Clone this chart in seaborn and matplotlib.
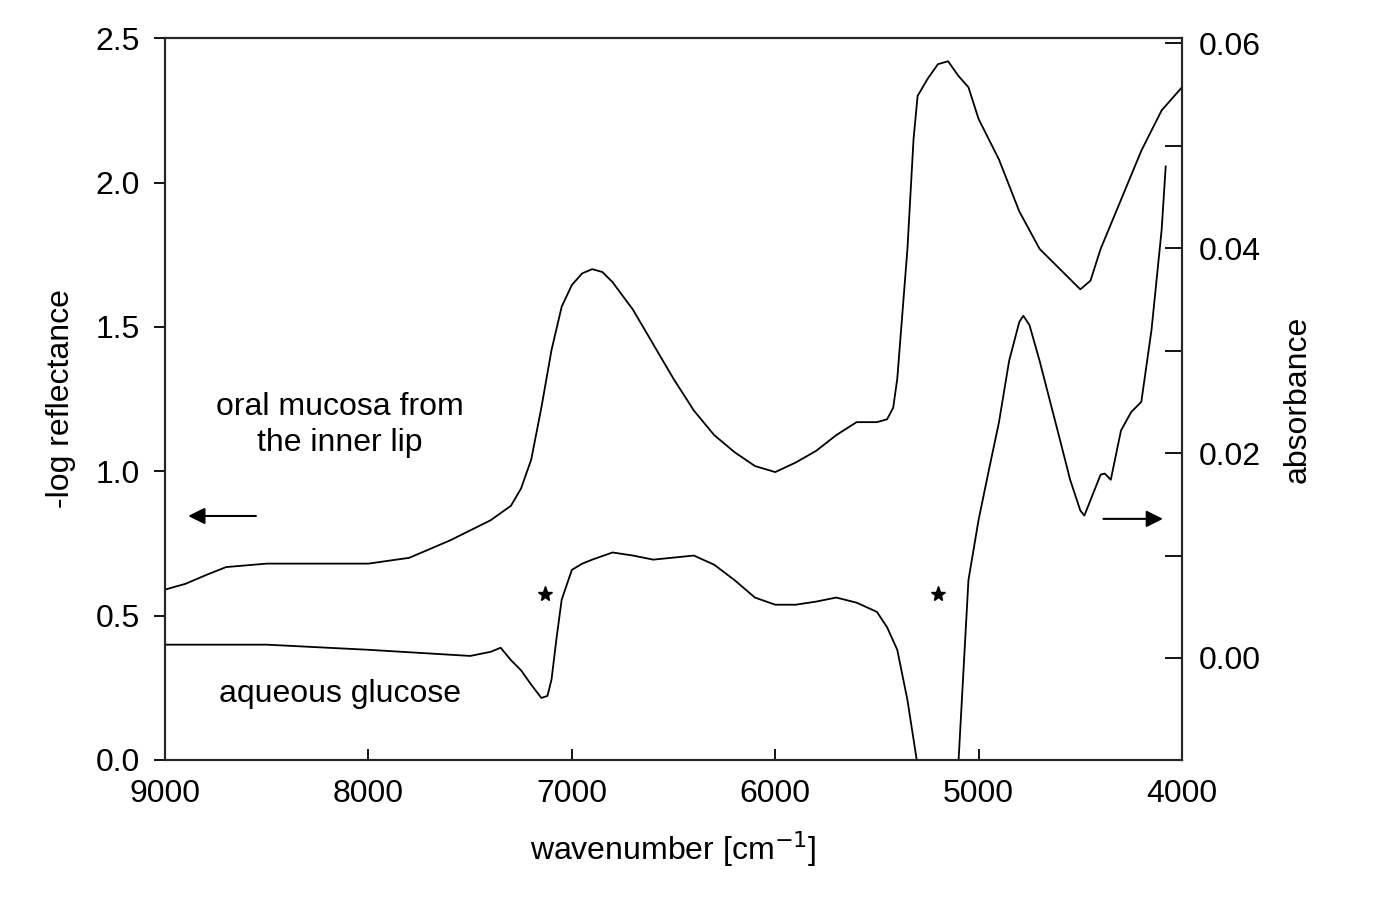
import numpy as np
import seaborn as sns
import matplotlib.pyplot as plt

sns.set_style("ticks")
plt.rcParams['font.family'] = ['Liberation Sans', 'DejaVu Sans']
plt.rcParams['text.color'] = 'black'
plt.rcParams['axes.labelcolor'] = 'black'
plt.rcParams['xtick.color'] = 'black'
plt.rcParams['ytick.color'] = 'black'

# oral mucosa, -log reflectance (left axis)
wn_mucosa = [9000, 8900, 8800, 8700, 8500, 8000, 7800, 7600, 7400, 7300, 7250, 7200, 7150, 7100, 7050,
             7000, 6950, 6900, 6850, 6800, 6700, 6600, 6500, 6400, 6300, 6200, 6100, 6000, 5900,
             5800, 5700, 5600, 5500, 5450, 5420, 5400, 5350, 5320, 5300, 5250, 5200, 5150, 5100,
             5050, 5000, 4900, 4800, 4700, 4600, 4500, 4450, 4400, 4300, 4200, 4100, 4000]
refl_mucosa = [0.59, 0.61, 0.64, 0.668, 0.68, 0.68, 0.70, 0.76, 0.83, 0.88, 0.94, 1.04, 1.22, 1.42,
               1.57, 1.645, 1.685, 1.70, 1.69, 1.655, 1.56, 1.44, 1.32, 1.21, 1.125, 1.066, 1.018,
               0.997, 1.03, 1.07, 1.125, 1.17, 1.17, 1.18, 1.22, 1.32, 1.77, 2.15, 2.30, 2.36, 2.41,
               2.42, 2.37, 2.33, 2.22, 2.08, 1.90, 1.77, 1.70, 1.63, 1.66, 1.77, 1.94, 2.11, 2.25, 2.33]

# aqueous glucose, absorbance (right axis)
wn_glucose = [9000, 8500, 8000, 7500, 7400, 7350, 7300, 7250, 7200, 7150, 7120, 7100, 7075, 7050,
              7000, 6950, 6900, 6800, 6700, 6600, 6500, 6400, 6300, 6200, 6100, 6000, 5900, 5800,
              5700, 5600, 5500, 5450, 5400, 5350, 5300, 5200, 5100, 5050, 5000, 4950, 4900, 4850,
              4800, 4780, 4750, 4700, 4600, 4550, 4500, 4480, 4450, 4400, 4380, 4350, 4300, 4250,
              4200, 4150, 4100, 4080]
abs_glucose = [0.0013, 0.0013, 0.0008, 0.0002, 0.0006, 0.001, -0.0002, -0.0012, -0.0026, -0.0039,
               -0.0037, -0.0021, 0.002, 0.0057, 0.0086, 0.0092, 0.0096, 0.0103, 0.0100, 0.0096,
               0.0098, 0.0100, 0.0091, 0.0076, 0.0059, 0.0052, 0.0052, 0.0055, 0.0059, 0.0054,
               0.0045, 0.003, 0.0008, -0.0041, -0.0105, -0.03, -0.0105, 0.0076, 0.0135, 0.0183,
               0.023, 0.029, 0.0328, 0.0334, 0.0325, 0.029, 0.0213, 0.0174, 0.0144, 0.0139, 0.0154,
               0.0179, 0.018, 0.0174, 0.0222, 0.024, 0.025, 0.032, 0.0418, 0.048]

fig = plt.figure(figsize=(13.76, 9.09), dpi=100)
ax = fig.add_axes([0.12, 0.164, 0.739, 0.794])
sns.lineplot(x=wn_mucosa, y=refl_mucosa, ax=ax, color='black', lw=1.3, sort=False)
ax.set_xlim(9000, 4000)
ax.set_ylim(0, 2.5)
ax.set_xticks([9000, 8000, 7000, 6000, 5000, 4000])
ax.set_yticks(np.arange(0, 2.51, 0.5))
ax.set_yticklabels(['0.0', '0.5', '1.0', '1.5', '2.0', '2.5'])
ax.set_xlabel('wavenumber [cm$^{-1}$]', fontsize=23, labelpad=14)
ax.set_ylabel('-log reflectance', fontsize=23, labelpad=14)
ax.tick_params(labelsize=23, width=1.3, length=8)
ax.tick_params(axis='y', pad=10)
ax.tick_params(axis='x', direction='in', pad=14)

ax2 = ax.twinx()
sns.lineplot(x=wn_glucose, y=abs_glucose, ax=ax2, color='black', lw=1.3, sort=False)
ax2.set_xlim(9000, 4000)
ax2.set_ylim(-0.00995, 0.0605)
ax2.set_yticks([0.0, 0.02, 0.04, 0.06])
ax2.set_yticklabels(['0.00', '0.02', '0.04', '0.06'])
ax2.set_yticks([0.01, 0.03, 0.05], minor=True)
ax2.set_ylabel('absorbance', fontsize=23, labelpad=16)
ax2.tick_params(axis='y', direction='in', labelsize=23, width=1.3, length=12, pad=12)
ax2.tick_params(axis='y', which='minor', direction='in', width=1.3, length=12)
for a in (ax, ax2):
    for s in a.spines.values():
        s.set_linewidth(1.5)

ax.text(8140, 1.16, 'oral mucosa from\nthe inner lip', fontsize=23, ha='center', va='center',
        linespacing=1.3)
ax.text(8140, 0.23, 'aqueous glucose', fontsize=23, ha='center', va='center')
ax.plot([7130, 5200], [0.575, 0.575], '*', color='black', ms=11, ls='none')
ax.annotate('', xy=(8900, 0.845), xytext=(8540, 0.845),
            arrowprops=dict(arrowstyle='-|>', color='black', lw=1.5, mutation_scale=25))
ax.annotate('', xy=(4080, 0.835), xytext=(4400, 0.835),
            arrowprops=dict(arrowstyle='-|>', color='black', lw=1.5, mutation_scale=25))

fig.savefig('out.png', dpi=100)
